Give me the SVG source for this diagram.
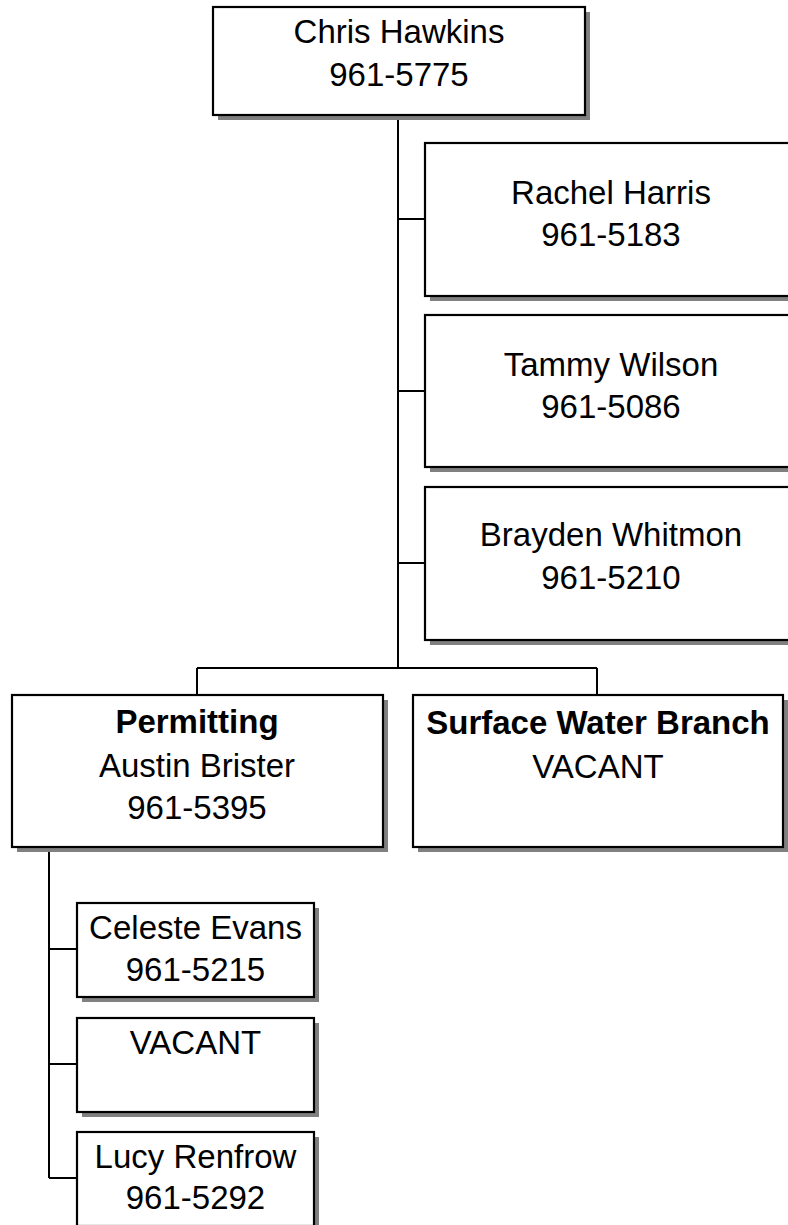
<svg xmlns="http://www.w3.org/2000/svg" width="788" height="1225" viewBox="0 0 788 1225">
<style>
.shadow{fill:#808080;stroke:none}
.box{fill:#ffffff;stroke:#000000;stroke-width:2.2}
.t{font-family:"Liberation Sans",Arial,sans-serif;font-size:33px;fill:#000000;text-anchor:middle}
.b{font-weight:bold}
.conn{stroke:#000000;stroke-width:2;fill:none}
</style>
<rect width="788" height="1225" fill="#ffffff"/>
<g id="connectors">
<path class="conn" d="M398,115 V668 M398,219 H425 M398,391 H425 M398,563 H425 M197,668 H597 M197,668 V695 M597,668 V695 M49,847 V1178 M49,949 H77 M49,1064 H77 M49,1178 H77"/>
</g>
<g id="chris">
<rect class="shadow" x="218" y="12" width="372" height="108"/>
<rect class="box" x="213" y="7" width="372" height="108"/>
<text class="t" x="399" y="43">Chris Hawkins</text>
<text class="t" x="399" y="86">961-5775</text>
</g>
<g id="rachel">
<rect class="shadow" x="430" y="148" width="380" height="153"/>
<rect class="box" x="425" y="143" width="380" height="153"/>
<text class="t" x="611" y="204">Rachel Harris</text>
<text class="t" x="611" y="246">961-5183</text>
</g>
<g id="tammy">
<rect class="shadow" x="430" y="320" width="380" height="152"/>
<rect class="box" x="425" y="315" width="380" height="152"/>
<text class="t" x="611" y="376">Tammy Wilson</text>
<text class="t" x="611" y="418">961-5086</text>
</g>
<g id="brayden">
<rect class="shadow" x="430" y="492" width="380" height="153"/>
<rect class="box" x="425" y="487" width="380" height="153"/>
<text class="t" x="611" y="546">Brayden Whitmon</text>
<text class="t" x="611" y="589">961-5210</text>
</g>
<g id="permitting">
<rect class="shadow" x="17" y="700" width="371" height="152"/>
<rect class="box" x="12" y="695" width="371" height="152"/>
<text class="t b" x="197" y="733">Permitting</text>
<text class="t" x="197" y="777">Austin Brister</text>
<text class="t" x="197" y="819">961-5395</text>
</g>
<g id="surface">
<rect class="shadow" x="418" y="700" width="370" height="152"/>
<rect class="box" x="413" y="695" width="370" height="152"/>
<text class="t b" x="598" y="734">Surface Water Branch</text>
<text class="t" x="598" y="778">VACANT</text>
</g>
<g id="celeste">
<rect class="shadow" x="82" y="908" width="237" height="94"/>
<rect class="box" x="77" y="903" width="237" height="94"/>
<text class="t" x="195.5" y="939">Celeste Evans</text>
<text class="t" x="195.5" y="981">961-5215</text>
</g>
<g id="vacant">
<rect class="shadow" x="82" y="1023" width="237" height="94"/>
<rect class="box" x="77" y="1018" width="237" height="94"/>
<text class="t" x="195.5" y="1054">VACANT</text>
</g>
<g id="lucy">
<rect class="shadow" x="82" y="1137" width="237" height="94"/>
<rect class="box" x="77" y="1132" width="237" height="94"/>
<text class="t" x="195.5" y="1168">Lucy Renfrow</text>
<text class="t" x="195.5" y="1209">961-5292</text>
</g>
</svg>
